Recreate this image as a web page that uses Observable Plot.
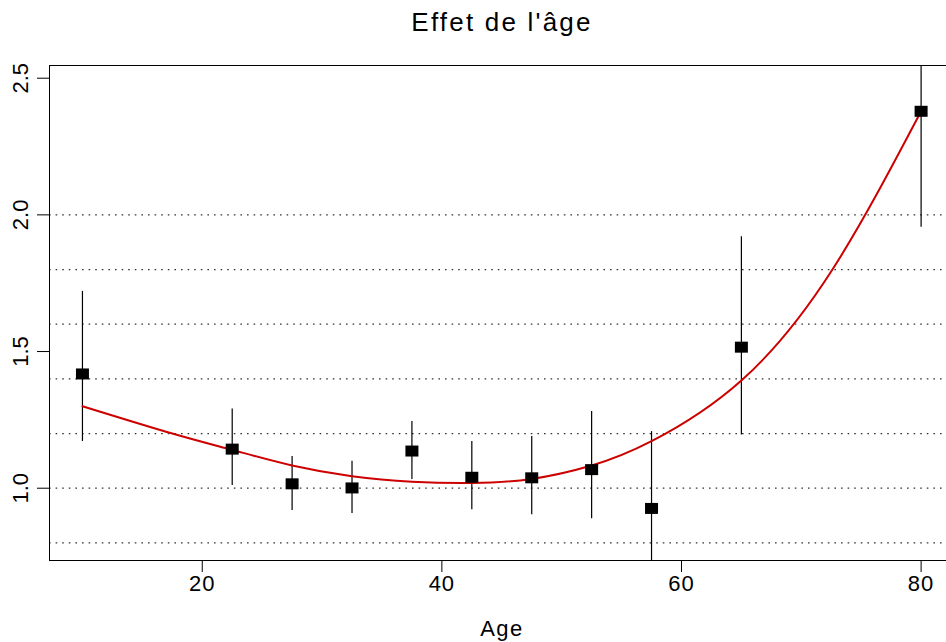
<!DOCTYPE html>
<html>
<head>
<meta charset="utf-8">
<script src="https://cdn.jsdelivr.net/npm/d3@7"></script>
<script src="https://cdn.jsdelivr.net/npm/@observablehq/plot@0.6"></script>
<style>
  html, body { margin: 0; padding: 0; background: #fff; }
  #chart svg { display: block; }
</style>
</head>
<body>
<div id="chart"></div>
<script>
// ---- data ----
const title = "Effet de l'âge";
const xLabel = "Age";

const ages   = [10, 22.5, 27.5, 32.5, 37.5, 42.5, 47.5, 52.5, 57.5, 65, 80];
const effect = [1.418, 1.143, 1.016, 1.001, 1.136, 1.040, 1.038, 1.068, 0.926, 1.516, 2.379];
const lower  = [1.171, 1.010, 0.918, 0.907, 1.032, 0.921, 0.903, 0.888, 0.645, 1.195, 1.955];
const upper  = [1.720, 1.290, 1.116, 1.099, 1.244, 1.171, 1.189, 1.281, 1.207, 1.920, 2.800];

const curveAge = [10, 17.5, 22.5, 27.5, 32.5, 37.5, 42.5, 47.5, 52.5, 57.5, 65, 72.6, 80];
const curveVal = [1.300, 1.200, 1.140, 1.083, 1.044, 1.024, 1.019, 1.034, 1.083, 1.172, 1.394, 1.800, 2.379];

const xTicks = [20, 40, 60, 80];
const yTicks = [1.0, 1.5, 2.0, 2.5];
const gridY  = [0.8, 1.0, 1.2, 1.4, 1.6, 1.8, 2.0];

const xDomain = [7.25, 82.12];
const yDomain = [0.7355, 2.5465];

// ---- tables built from the arrays ----
const points = ages.map((a, i) => ({age: a, eff: effect[i], lo: lower[i], hi: upper[i]}));
const curve = curveAge.map((a, i) => ({age: a, val: curveVal[i]}));

const rectSymbol = { draw(ctx) { ctx.rect(-6.5, -5.5, 13, 11); } };
const font = "'Liberation Sans', Arial, Helvetica, sans-serif";

const chart = Plot.plot({
  width: 946,
  height: 642,
  marginLeft: 49,
  marginRight: 0,
  marginTop: 65,
  marginBottom: 82,
  style: { fontFamily: font, background: "#fff", color: "#000" },
  x: { domain: xDomain, axis: null },
  y: { domain: yDomain, axis: null },
  marks: [
    Plot.ruleY(gridY, { stroke: "#333", strokeWidth: 1.2, strokeDasharray: "1.6,5" }),
    // box (right side is outside the window)
    Plot.ruleX([xDomain[0]], { stroke: "#000", strokeWidth: 1 }),
    Plot.ruleY(yDomain, { stroke: "#000", strokeWidth: 1 }),
    // axes
    Plot.axisX({ ticks: xTicks, tickSize: 12, tickPadding: 3, fontSize: 22, label: null, stroke: "#000" }),
    Plot.axisY({ ticks: yTicks, tickSize: 12, tickFormat: () => "", label: null, stroke: "#000" }),
    Plot.text(yTicks, { frameAnchor: "left", y: d => d, text: d => d3.format(".1f")(d), rotate: -90, dx: -29, fontSize: 22, lineAnchor: "middle", textAnchor: "middle", fill: "#000" }),
    // error bars
    Plot.ruleX(points, { x: "age", y1: "lo", y2: "hi", stroke: "#000", strokeWidth: 1.2, clip: true }),
    // fitted curve
    Plot.line(curve, { x: "age", y: "val", stroke: "#CD0000", strokeWidth: 2, curve: "natural" }),
    // estimates
    Plot.dot(points, { x: "age", y: "eff", symbol: rectSymbol, fill: "#000", stroke: "none" }),
    // titles
    Plot.text([title], { frameAnchor: "top", lineAnchor: "middle", dy: -43, dx: 4, fontSize: 26, fill: "#000" }),
    Plot.text([xLabel], { frameAnchor: "bottom", lineAnchor: "middle", dy: 68, dx: 4, fontSize: 22, fill: "#000" })
  ]
});

document.getElementById("chart").appendChild(chart);

// letter spacing to match the reference's wide lettering
d3.select(chart).selectAll("text").each(function () {
  const t = this.textContent;
  if (t === title) d3.select(this).style("letter-spacing", "2.2px");
  else if (t === xLabel) d3.select(this).style("letter-spacing", "1.5px");
  else if (xTicks.map(String).includes(t)) d3.select(this).style("letter-spacing", "1px");
});
</script>
</body>
</html>
